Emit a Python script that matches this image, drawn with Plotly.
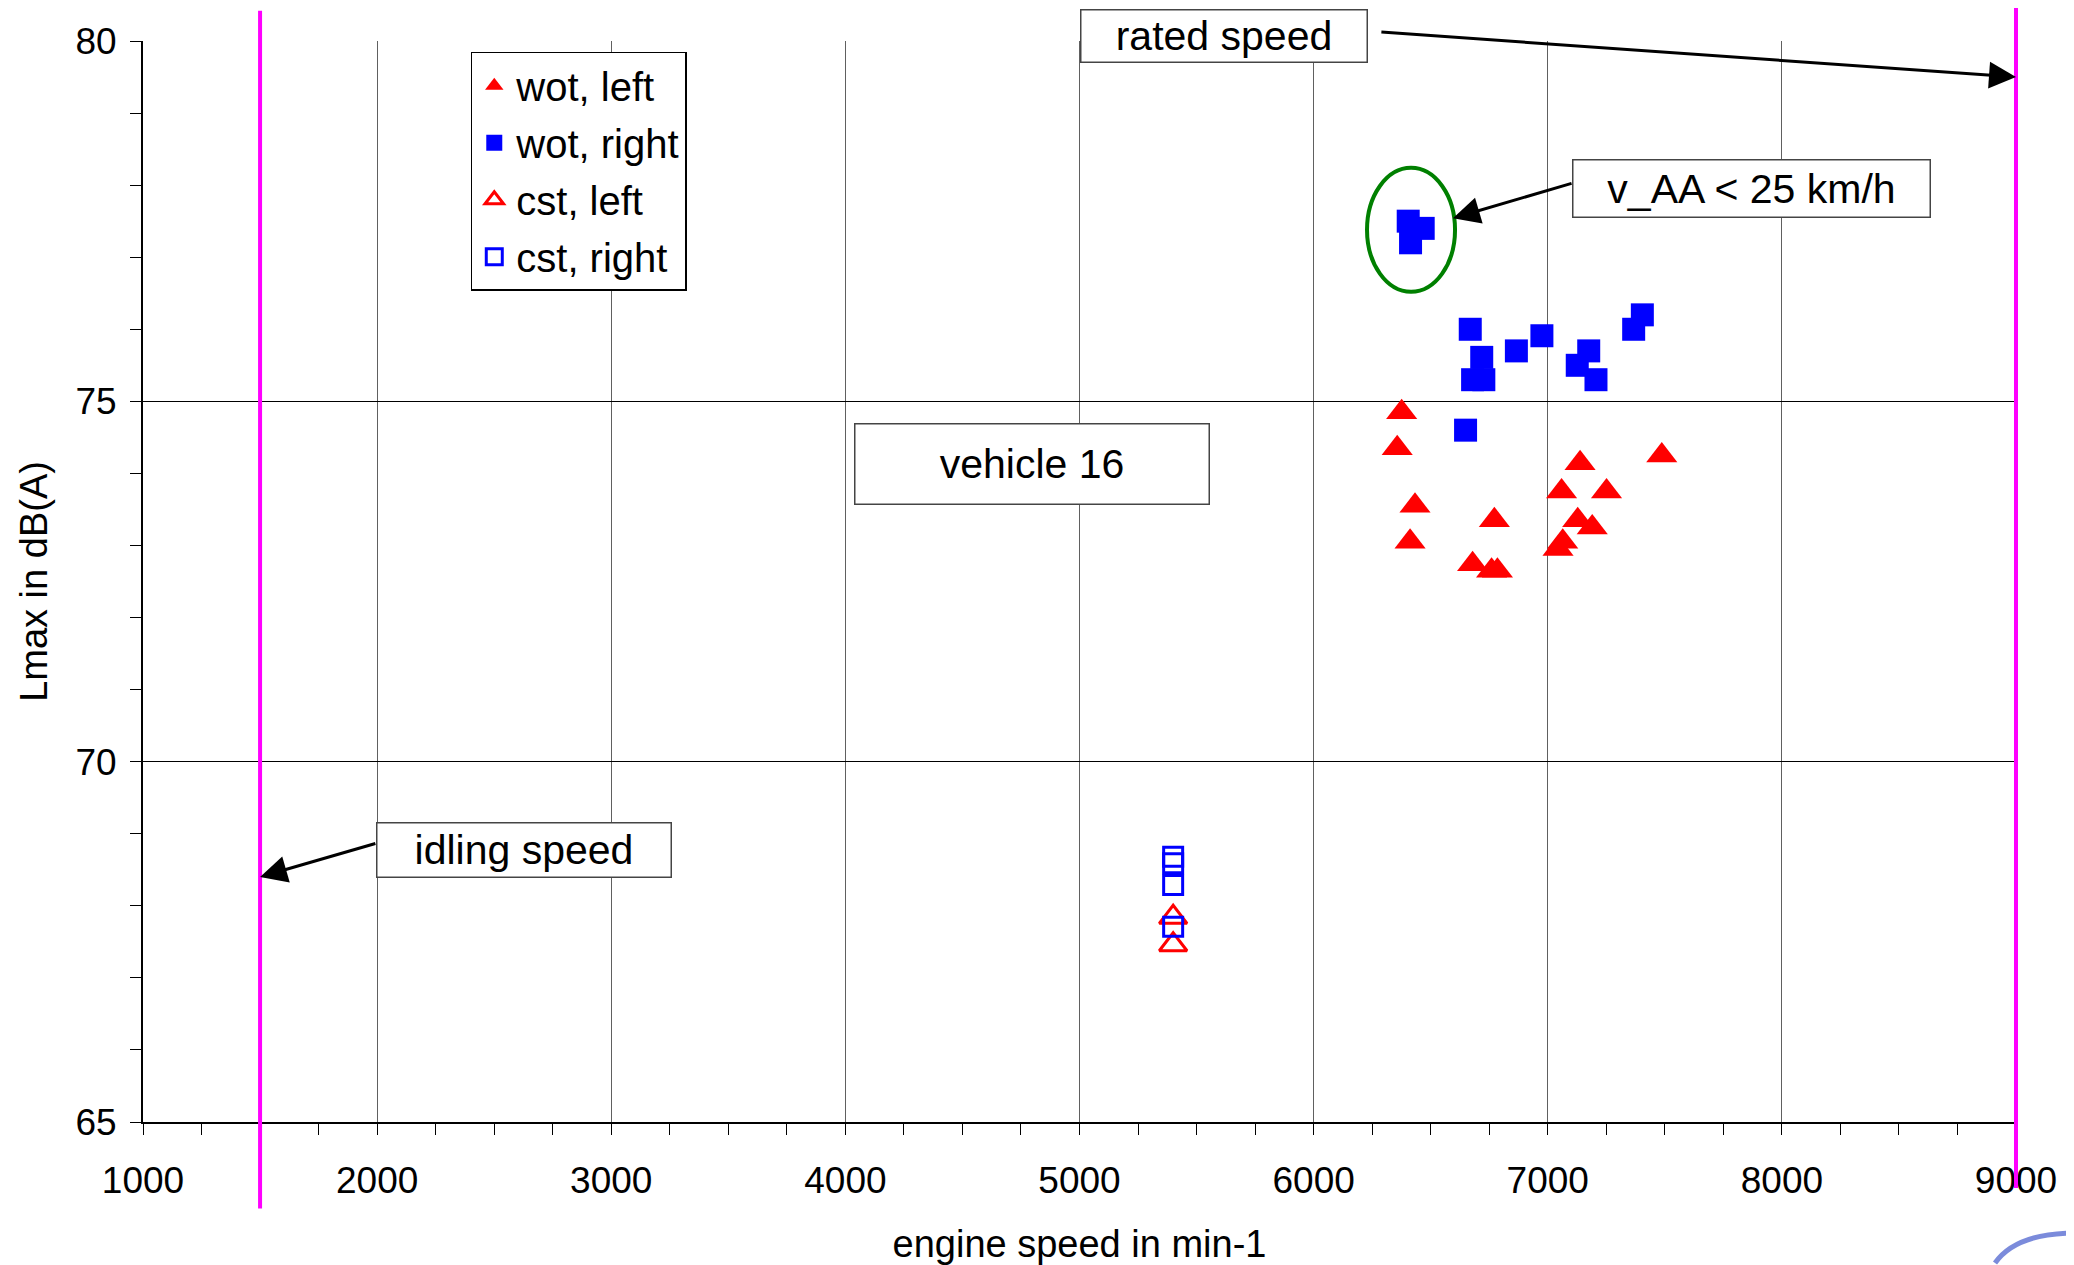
import plotly.graph_objects as go

# ---- data ----
wot_left_x = [6376, 6357, 6433, 6412, 6772, 6679, 6760, 6785, 7138, 7059, 7251, 7128, 7190, 7064, 7044, 7487]
wot_left_y = [74.85, 74.35, 73.55, 73.05, 73.35, 72.74, 72.65, 72.65, 74.14, 73.75, 73.75, 73.35, 73.25, 73.05, 72.95, 74.25]

wot_right_x = [6404, 6468, 6414, 6669, 6718, 6679, 6727, 6866, 6975, 7175, 7126, 7206, 7404, 7367, 6649]
wot_right_y = [77.50, 77.40, 77.20, 76.00, 75.61, 75.30, 75.30, 75.70, 75.91, 75.70, 75.50, 75.30, 76.20, 76.00, 74.60]

cst_left_x = [5400, 5400]
cst_left_y = [67.84, 67.46]

cst_right_x = [5400, 5400, 5400, 5400]
cst_right_y = [68.68, 68.59, 68.29, 67.71]

idle_speed = 1500
rated_speed = 9000
x_range = [1000, 9000]
y_range = [65, 80]

FONT = "Liberation Sans, Arial, sans-serif"

fig = go.Figure()
fig.add_trace(go.Scatter(x=wot_left_x, y=wot_left_y, mode="markers", name="wot, left",
                         legendgroup="a",
                         marker=dict(symbol="triangle-up", size=27, color="#FF0000")))
fig.add_trace(go.Scatter(x=wot_right_x, y=wot_right_y, mode="markers", name="wot, right",
                         legendgroup="b",
                         marker=dict(symbol="square", size=23, color="#0000FF")))
fig.add_trace(go.Scatter(x=cst_left_x, y=cst_left_y, mode="markers", name="cst, left",
                         legendgroup="c",
                         marker=dict(symbol="triangle-up-open", size=24, color="#FF0000",
                                     line=dict(width=3, color="#FF0000"))))
fig.add_trace(go.Scatter(x=cst_right_x, y=cst_right_y, mode="markers", name="cst, right",
                         legendgroup="d",
                         marker=dict(symbol="square-open", size=19, color="#0000FF",
                                     line=dict(width=3, color="#0000FF"))))

def xpaper(v):
    return (v - x_range[0]) / (x_range[1] - x_range[0])

shapes = [
    dict(type="line", xref="paper", yref="paper", x0=xpaper(idle_speed), x1=xpaper(idle_speed),
         y0=-0.080, y1=1.028, line=dict(color="#FF00FF", width=4)),
    dict(type="line", xref="paper", yref="paper", x0=xpaper(rated_speed), x1=xpaper(rated_speed),
         y0=-0.061, y1=1.04, line=dict(color="#FF00FF", width=4)),
    dict(type="circle", xref="x", yref="y", x0=6228, x1=6604, y0=76.52, y1=78.24,
         line=dict(color="#008000", width=4)),
    dict(type="path", xref="paper", yref="paper",
         path="M 0.9888,-0.1304 Q 1.000,-0.1030 1.031,-0.1027",
         line=dict(color="rgba(90,110,210,0.8)", width=5)),
]

def box(text, x, y, w, h, yref="y"):
    return dict(text=text, x=x, y=y, xref="x", yref=yref, showarrow=False,
                width=w, height=h, bgcolor="white", bordercolor="#444444",
                borderwidth=1.5, borderpad=0, font=dict(size=41, family=FONT, color="black"),
                xanchor="center", yanchor="middle", align="center", valign="middle")

def arrow(x, y, ax, ay):
    return dict(text="", x=x, y=y, ax=ax, ay=ay, xref="x", yref="y", axref="x", ayref="y",
                showarrow=True, arrowhead=2, arrowsize=1.8, arrowwidth=3, arrowcolor="black",
                standoff=0, startstandoff=0)

annotations = [
    arrow(rated_speed, 79.5, 6283, 80.125),
    arrow(6595, 77.54, 7108, 78.03),
    arrow(idle_speed, 68.40, 1999, 68.87),
    box("rated speed", 5617, 1.0046, 285, 51, yref="paper"),
    box("v_AA &lt; 25 km/h", 7872, 77.96, 356, 56),
    box("idling speed", 2627, 68.77, 293, 53),
    box("vehicle 16", 4797, 74.13, 353, 79),
]

fig.update_layout(
    width=2074, height=1265,
    margin=dict(l=135, r=66, t=33, b=151, autoexpand=False),
    plot_bgcolor="white", paper_bgcolor="white",
    font=dict(family=FONT, color="black", size=37),
    showlegend=True,
    legend=dict(x=0.175, y=0.990, xanchor="left", yanchor="top",
                bgcolor="white", bordercolor="black", borderwidth=1.5,
                font=dict(size=40, family=FONT, color="black"),
                tracegroupgap=2, itemwidth=34),
    xaxis=dict(range=x_range, tick0=1000, dtick=1000, showgrid=True, gridcolor="#606060", gridwidth=1,
               zeroline=False, showline=True, linecolor="black", linewidth=2, automargin=False,
               ticks="outside", ticklen=11, tickwidth=1, tickcolor="black",
               ticklabelstandoff=14,
               minor=dict(dtick=250, ticks="outside", ticklen=11, tickwidth=1, tickcolor="black", showgrid=False),
               tickfont=dict(size=37),
               title=dict(text="engine speed in min-1", font=dict(size=38), standoff=30)),
    yaxis=dict(range=y_range, tick0=65, dtick=5, showgrid=True, gridcolor="black", gridwidth=1,
               zeroline=False, showline=True, linecolor="black", linewidth=2, automargin=False,
               ticks="outside", ticklen=11, tickwidth=1, tickcolor="black",
               ticklabelstandoff=6,
               minor=dict(dtick=1, ticks="outside", ticklen=11, tickwidth=1, tickcolor="black", showgrid=False),
               tickfont=dict(size=37),
               title=dict(text="Lmax in dB(A)", font=dict(size=38), standoff=16)),
    shapes=shapes,
    annotations=annotations,
)

fig.write_html("out.html")
